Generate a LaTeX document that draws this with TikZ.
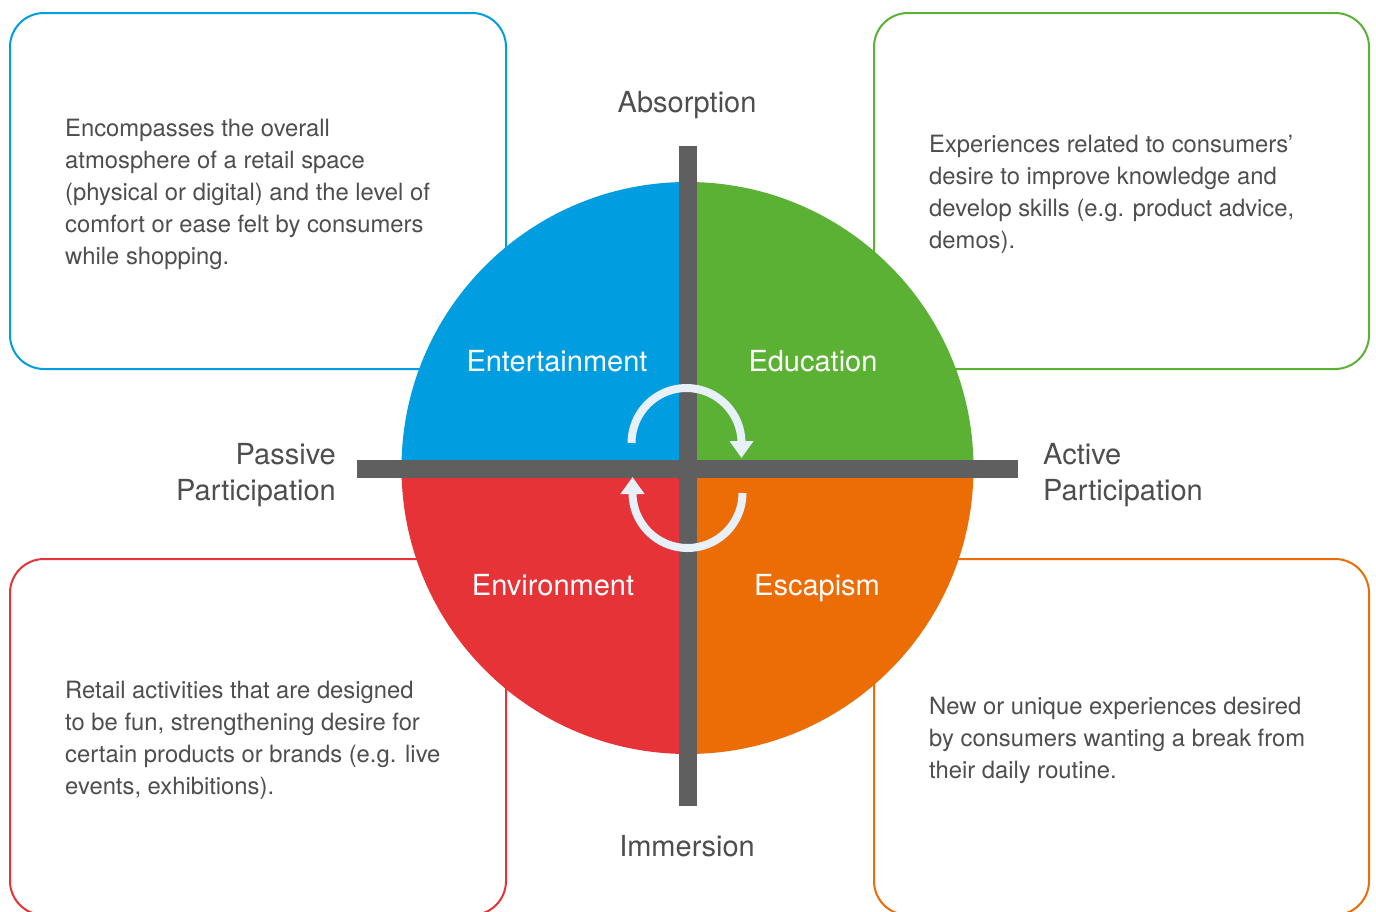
\documentclass[tikz,border=0pt]{standalone}
\usepackage{fontspec}
\setmainfont{TeX Gyre Heros}
\usetikzlibrary{arrows.meta}
\definecolor{cblue}{RGB}{0,158,224}
\definecolor{cgreen}{RGB}{91,177,51}
\definecolor{cred}{RGB}{230,51,56}
\definecolor{corange}{RGB}{236,108,5}
\definecolor{cbar}{RGB}{95,95,95}
\definecolor{ctext}{RGB}{78,78,78}
\definecolor{carrow}{RGB}{232,241,250}
\begin{document}
\begin{tikzpicture}[x=1pt,y=-1pt,
  box/.style={line width=2pt, rounded corners=34pt},
  body/.style={anchor=base west, align=left, inner sep=0pt, text=ctext, font=\fontsize{23.8}{32}\selectfont},
  axislabel/.style={inner sep=0pt, text=ctext, font=\fontsize{29}{36}\selectfont},
  quadlabel/.style={inner sep=0pt, text=white, font=\fontsize{29}{36}\selectfont, anchor=base},
  cyc/.style={draw=carrow, line width=8pt, -{Triangle[width=23pt,length=17pt]}}]
\useasboundingbox (0,0) rectangle (1376,911);
\clip (0,0) rectangle (1376,911);
\fill[white] (0,0) rectangle (1376,911);
% boxes
\draw[box, draw=cblue] (10,13) rectangle (506,369);
\draw[box, draw=cgreen] (874,13) rectangle (1369,369);
\draw[box, draw=cred] (10,559) rectangle (506,915);
\draw[box, draw=corange] (874,559) rectangle (1369,915);
% pie
\coordinate (c) at (687.5,468);
\fill[cblue] (c) -- ++(180:286) arc[start angle=180,end angle=270,radius=286] -- cycle;
\fill[cgreen] (c) -- ++(270:286) arc[start angle=270,end angle=360,radius=286] -- cycle;
\fill[corange] (c) -- ++(0:286) arc[start angle=0,end angle=90,radius=286] -- cycle;
\fill[cred] (c) -- ++(90:286) arc[start angle=90,end angle=180,radius=286] -- cycle;
% axes
\fill[cbar] (678.5,146) rectangle (696.5,806);
\fill[cbar] (357,459.5) rectangle (1018,477.5);
% cycle arrows
\draw[cyc] (631.5,443) arc[start angle=180,end angle=360,radius=55] -- ++(0,15);
\draw[cyc] (742.5,493) arc[start angle=0,end angle=180,radius=55] -- ++(0,-16);
% axis labels (base anchor = baseline of last line)
\node[axislabel, anchor=base] (abs) at (687,112) {Absorption};
\node[axislabel, anchor=base] (imm) at (687,856) {Immersion};
\node[axislabel, anchor=base east, align=right] (pas) at (336,500) {Passive\\Participation};
\node[axislabel, anchor=base west, align=left] (act) at (1043,500) {Active\\Participation};
% quadrant labels
\node[quadlabel] (ent) at (557,371) {Entertainment};
\node[quadlabel] (edu) at (813,371) {Education};
\node[quadlabel] (env) at (553,595) {Environment};
\node[quadlabel] (esc) at (817,595) {Escapism};
% descriptions
\node[body] (t1) at (65,264) {Encompasses the overall\\atmosphere of a retail space\\(physical or digital) and the level of\\comfort or ease felt by consumers\\while shopping.};
\node[body] (t2) at (929,248) {Experiences related to consumers’\\desire to improve knowledge and\\develop skills (e.g. product advice,\\demos).};
\node[body] (t3) at (65,794) {Retail activities that are designed\\to be fun, strengthening desire for\\certain products or brands (e.g. live\\events, exhibitions).};
\node[body] (t4) at (929,778) {New or unique experiences desired\\by consumers wanting a break from\\their daily routine.};
\end{tikzpicture}
\end{document}
